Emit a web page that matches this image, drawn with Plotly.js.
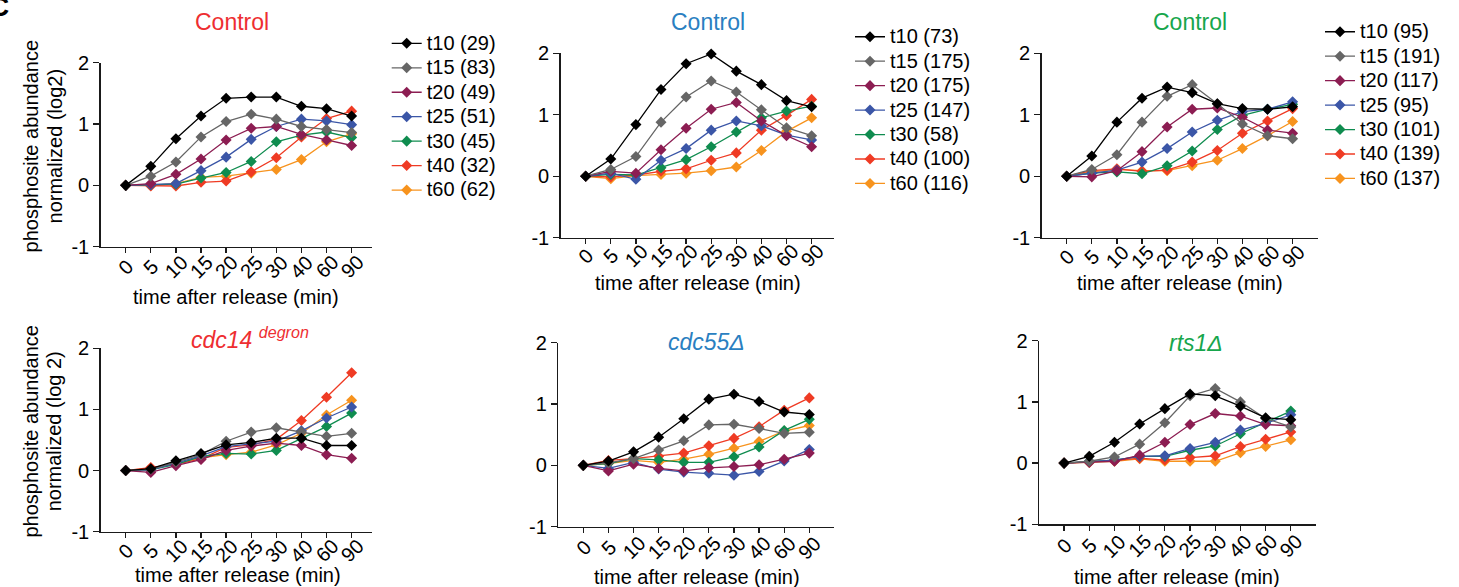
<!DOCTYPE html>
<html><head><meta charset="utf-8">
<script src="https://cdn.plot.ly/plotly-3.0.1.min.js"></script>
<style>html,body{margin:0;padding:0;background:#fff}#chart{width:1459px;height:587px}</style>
</head><body><div id="chart"></div>
<script>
// ---------- data ----------
const timeLabels = ['0','5','10','15','20','25','30','40','60','90'];
const seriesNames = ['t10','t15','t20','t25','t30','t40','t60'];

const countsCtrlRed   = [29, 83, 49, 51, 45, 32, 62];
const countsCtrlBlue  = [73, 175, 175, 147, 58, 100, 116];
const countsCtrlGreen = [95, 191, 117, 95, 101, 139, 137];

// rows: t10, t15, t20, t25, t30, t40, t60
const ctrlRed = [
  [0, 0.31, 0.76, 1.13, 1.42, 1.44, 1.44, 1.29, 1.25, 1.13],
  [0, 0.15, 0.38, 0.79, 1.04, 1.16, 1.08, 0.96, 0.91, 0.86],
  [0, 0.03, 0.18, 0.43, 0.74, 0.93, 0.96, 0.83, 0.74, 0.65],
  [0, 0.01, 0.03, 0.24, 0.46, 0.75, 0.96, 1.08, 1.05, 0.99],
  [0, 0.01, 0.02, 0.12, 0.21, 0.39, 0.71, 0.82, 0.87, 0.78],
  [0, -0.01, -0.01, 0.05, 0.07, 0.22, 0.45, 0.79, 1.09, 1.21],
  [0, 0.00, 0.03, 0.13, 0.15, 0.20, 0.26, 0.42, 0.71, 0.84]
];
const ctrlBlue = [
  [0, 0.28, 0.84, 1.41, 1.83, 1.99, 1.71, 1.49, 1.23, 1.13],
  [0, 0.11, 0.32, 0.88, 1.29, 1.55, 1.37, 1.08, 0.79, 0.66],
  [0, 0.08, 0.05, 0.43, 0.78, 1.09, 1.20, 0.90, 0.66, 0.48],
  [0, 0.05, -0.05, 0.26, 0.45, 0.75, 0.90, 0.82, 0.67, 0.59],
  [0, 0.03, 0.02, 0.14, 0.27, 0.48, 0.72, 0.95, 1.06, 1.14],
  [0, -0.01, 0.02, 0.08, 0.12, 0.26, 0.38, 0.75, 0.99, 1.25],
  [0, -0.04, 0.01, 0.03, 0.05, 0.09, 0.15, 0.42, 0.73, 0.95]
];
const ctrlGreen = [
  [0, 0.33, 0.88, 1.27, 1.45, 1.36, 1.18, 1.10, 1.09, 1.13],
  [0, 0.11, 0.35, 0.88, 1.30, 1.49, 1.18, 0.85, 0.66, 0.61],
  [0, -0.01, 0.09, 0.40, 0.80, 1.09, 1.11, 0.96, 0.75, 0.70],
  [0, 0.05, 0.10, 0.23, 0.45, 0.72, 0.91, 1.05, 1.09, 1.21],
  [0, 0.05, 0.07, 0.04, 0.17, 0.41, 0.76, 0.99, 1.09, 1.17],
  [0, 0.09, 0.12, 0.08, 0.10, 0.23, 0.42, 0.70, 0.90, 1.10],
  [0, 0.07, 0.11, 0.09, 0.09, 0.17, 0.26, 0.45, 0.66, 0.89]
];
const cdc14 = [
  [0, 0.03, 0.16, 0.28, 0.42, 0.46, 0.53, 0.53, 0.41, 0.41],
  [0, 0.02, 0.14, 0.26, 0.48, 0.63, 0.70, 0.63, 0.56, 0.61],
  [0, -0.03, 0.08, 0.18, 0.33, 0.40, 0.45, 0.41, 0.26, 0.20],
  [0, 0.01, 0.12, 0.24, 0.39, 0.43, 0.48, 0.65, 0.86, 1.04],
  [0, 0.01, 0.10, 0.23, 0.28, 0.27, 0.33, 0.52, 0.72, 0.94],
  [0, 0.05, 0.10, 0.19, 0.38, 0.42, 0.51, 0.82, 1.20, 1.60],
  [0, 0.04, 0.11, 0.21, 0.26, 0.30, 0.42, 0.61, 0.91, 1.15]
];
const cdc55 = [
  [0, 0.07, 0.22, 0.46, 0.76, 1.08, 1.16, 1.04, 0.87, 0.83],
  [0, 0.04, 0.11, 0.25, 0.40, 0.66, 0.67, 0.60, 0.52, 0.54],
  [0, -0.09, 0.02, -0.05, -0.09, -0.04, -0.02, 0.01, 0.10, 0.20],
  [0, -0.05, 0.05, -0.06, -0.11, -0.13, -0.16, -0.10, 0.07, 0.26],
  [0, 0.03, 0.11, 0.09, 0.05, 0.05, 0.14, 0.30, 0.57, 0.75],
  [0, 0.08, 0.11, 0.15, 0.20, 0.32, 0.44, 0.63, 0.90, 1.10],
  [0, 0.03, 0.08, 0.05, 0.10, 0.18, 0.28, 0.39, 0.56, 0.65]
];
const rts1 = [
  [0, 0.11, 0.34, 0.64, 0.89, 1.13, 1.10, 0.93, 0.74, 0.71],
  [0, 0.03, 0.10, 0.31, 0.66, 1.10, 1.22, 1.00, 0.73, 0.59],
  [0, 0.01, 0.03, 0.13, 0.34, 0.63, 0.81, 0.77, 0.63, 0.61],
  [0, 0.03, 0.05, 0.11, 0.12, 0.24, 0.34, 0.54, 0.65, 0.79],
  [0, 0.03, 0.05, 0.11, 0.11, 0.21, 0.28, 0.48, 0.66, 0.85],
  [0, 0.02, 0.04, 0.08, 0.05, 0.09, 0.12, 0.27, 0.39, 0.51],
  [0, 0.01, 0.03, 0.07, 0.03, 0.03, 0.03, 0.17, 0.27, 0.38]
];
const yTickVals = [-1, 0, 1, 2];
const yTickText = ['-1', '0', '1', '2'];

// ---------- styles ----------
const seriesColors = ['#000000', '#666666', '#8c1d52', '#3b56a7', '#0f8c4f', '#ef3b24', '#f7931e'];
const FONT = 'Liberation Sans, Arial, Helvetica, sans-serif';
const W = 1459, H = 587;
const fx = v => v / W;
const fy = v => 1 - v / H;

// xp/yp: plot-area pixel extents; lab: tick-label centre offset below the x axis; xt: x-title centre
const panels = [
  {data: ctrlRed,   counts: countsCtrlRed,   legend: 'legend',  xp: [100.6, 371.7],  xr: [-1, 9.8],  yp: [62.7, 246.7], lab: 20, xt: [236, 297]},
  {data: ctrlBlue,  counts: countsCtrlBlue,  legend: 'legend2', xp: [560.6, 834.2],  xr: [-1, 9.9],  yp: [53.3, 237.7], lab: 18, xt: [698, 283]},
  {data: ctrlGreen, counts: countsCtrlGreen, legend: 'legend3', xp: [1041.6, 1317.7], xr: [-1, 10.0], yp: [53.3, 237.7], lab: 19, xt: [1180, 283]},
  {data: cdc14,     counts: null,            legend: null,      xp: [100.6, 371.7],  xr: [-1, 9.8],  yp: [348.3, 531.7], lab: 19, xt: [238, 575]},
  {data: cdc55,     counts: null,            legend: null,      xp: [558.2, 834.4],  xr: [-1, 10.0], yp: [342.7, 526.7], lab: 21, xt: [697, 577]},
  {data: rts1,      counts: null,            legend: null,      xp: [1038.9, 1316.0], xr: [-1, 10.0], yp: [340.7, 524.3], lab: 22, xt: [1177, 577]}
];

const traces = [];
const layout = {
  width: W, height: H,
  margin: {l: 0, r: 0, t: 0, b: 0},
  paper_bgcolor: '#ffffff', plot_bgcolor: 'rgba(0,0,0,0)',
  font: {family: FONT, color: '#000', size: 20},
  showlegend: true,
  annotations: [],
  hovermode: false
};

panels.forEach((p, i) => {
  const n = i === 0 ? '' : String(i + 1);
  const xa = 'x' + n, ya = 'y' + n;
  for (let s = seriesNames.length - 1; s >= 0; s--) {
    const t = {
      type: 'scatter', mode: 'lines+markers',
      x: timeLabels, y: p.data[s],
      xaxis: xa, yaxis: ya,
      line: {color: seriesColors[s], width: 1.3},
      marker: {symbol: 'diamond', size: 8.5, color: seriesColors[s], line: {width: 0}},
      cliponaxis: false,
      showlegend: !!p.legend
    };
    if (p.legend) {
      t.legend = p.legend;
      t.name = '<span style="font-size:20px">' + seriesNames[s] + ' (' + p.counts[s] + ')</span>';
    }
    traces.push(t);
  }
  layout['xaxis' + n] = {
    type: 'category',
    categoryorder: 'array', categoryarray: timeLabels,
    domain: [fx(p.xp[0]), fx(p.xp[1])],
    range: p.xr,
    anchor: ya,
    tickmode: 'array', tickvals: timeLabels, ticktext: timeLabels,
    showline: true, linecolor: '#1a1a1a', linewidth: 1.4,
    showgrid: false, zeroline: false,
    ticks: 'outside', ticklen: 5, tickwidth: 1.3, tickcolor: '#1a1a1a',
    showticklabels: false,
    fixedrange: true
  };
  layout['yaxis' + n] = {
    domain: [fy(p.yp[1]), fy(p.yp[0])],
    range: [-1, 2],
    anchor: xa,
    tickmode: 'array', tickvals: yTickVals, ticktext: yTickText,
    showline: true, linecolor: '#1a1a1a', linewidth: 1.4,
    showgrid: false, zeroline: false,
    ticks: 'outside', ticklen: 6, tickwidth: 1.3, tickcolor: '#1a1a1a',
    tickfont: {size: 20, family: FONT, color: '#000'},
    fixedrange: true
  };
  // rotated x tick labels, centred under each category tick (placed by category index on the x scale)
  timeLabels.forEach((lbl, k) => layout.annotations.push({
    text: lbl, xref: xa, yref: 'paper', x: k, y: fy(p.yp[1] + p.lab),
    xanchor: 'center', yanchor: 'middle', textangle: -45, showarrow: false,
    font: {size: 20, family: FONT, color: '#000'}
  }));
  // x-axis title
  layout.annotations.push({
    text: 'time after release (min)', xref: 'paper', yref: 'paper',
    x: fx(p.xt[0]), y: fy(p.xt[1]), xanchor: 'center', yanchor: 'middle', showarrow: false,
    font: {size: 20, family: FONT, color: '#000'}
  });
});

// legends
const legendBase = {
  traceorder: 'reversed',
  bgcolor: 'rgba(0,0,0,0)', borderwidth: 0,
  font: {size: 16.5, family: FONT, color: '#000'},
  xref: 'paper', yref: 'paper', xanchor: 'left', yanchor: 'top',
  itemclick: false, itemdoubleclick: false
};
layout.legend  = Object.assign({}, legendBase, {x: fx(386.7), y: fy(26.1)});
layout.legend2 = Object.assign({}, legendBase, {x: fx(850),   y: fy(19.5)});
layout.legend3 = Object.assign({}, legendBase, {x: fx(1320),  y: fy(14.5)});

// panel titles
const titleSpecs = [
  {text: 'Control', color: '#ee2e31', x: 232, y: 22},
  {text: 'Control', color: '#2a7fc1', x: 708, y: 22},
  {text: 'Control', color: '#17a64c', x: 1190, y: 22},
  {text: '<i>cdc14 </i><sup><i>degron</i></sup>', color: '#ee2e31', x: 250, y: 338},
  {text: '<i>cdc55Δ</i>', color: '#2a7fc1', x: 706.7, y: 342},
  {text: '<i>rts1Δ</i>', color: '#17a64c', x: 1196, y: 343}
];
titleSpecs.forEach(t => layout.annotations.push({
  text: t.text, xref: 'paper', yref: 'paper', x: fx(t.x), y: fy(t.y),
  xanchor: 'center', yanchor: 'middle', showarrow: false,
  font: {size: 23, family: FONT, color: t.color}
}));

// y-axis titles
[
  {text: 'phosphosite abundance<br>normalized (log2)', x: 43.4, y: 146},
  {text: 'phosphosite abundance<br>normalized (log 2)', x: 41.5, y: 432}
].forEach(t => layout.annotations.push({
  text: '<span style="font-size:20px">' + t.text.replace('<br>', '</span><br><span style="font-size:20px">') + '</span>',
  xref: 'paper', yref: 'paper', x: fx(t.x), y: fy(t.y),
  xanchor: 'center', yanchor: 'middle', showarrow: false, textangle: -90,
  font: {size: 18, family: FONT, color: '#000'}
}));

// cropped panel letter (cut off at the top-left edge, as in the source figure)
layout.annotations.push({
  text: '<b>C</b>', xref: 'paper', yref: 'paper', x: fx(11), y: fy(24),
  xanchor: 'right', yanchor: 'bottom', showarrow: false,
  font: {size: 28, family: FONT, color: '#000'}
});

Plotly.newPlot('chart', traces, layout, {staticPlot: true, displayModeBar: false});
</script>
</body></html>
